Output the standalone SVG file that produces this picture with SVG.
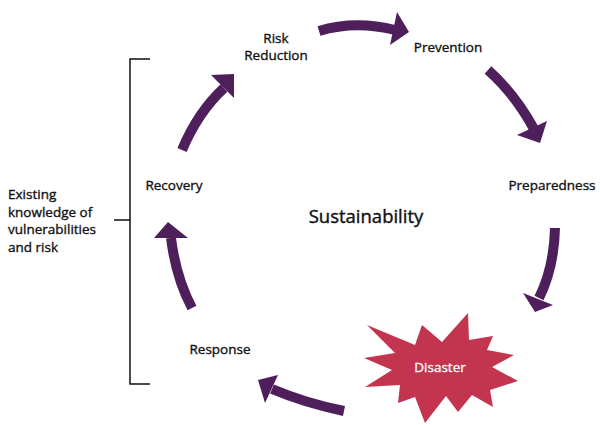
<svg xmlns="http://www.w3.org/2000/svg" width="600" height="425" viewBox="0 0 600 425">
<style>
.lbl{font-family:"Open Sans","Liberation Sans",sans-serif;font-size:13.5px;fill:#111;stroke:#111;stroke-width:0.35;}
.body{fill:none;stroke:#4f1f5c;stroke-width:10;stroke-linecap:butt;}
.head{fill:#4f1f5c;}
.br{fill:none;stroke:#111;stroke-width:1.5;}
</style>
<rect width="600" height="425" fill="#fff"/>
<g id="connectors">
<path class="body" d="M182,150 Q198,112 224,88"/>
<polygon class="head" points="211,75 234,74 234,98"/>
<path class="body" d="M319,31 Q355,20 395,30"/>
<polygon class="head" points="397,12 409,32 390,45"/>
<path class="body" d="M488,70 Q515,94 534,129"/>
<polygon class="head" points="517,135 540,143 547,121"/>
<path class="body" d="M555,228 Q554,268 539,298"/>
<polygon class="head" points="523,293 535,312 553,305"/>
<path class="body" d="M344,411 Q305,403 272,389"/>
<polygon class="head" points="278,375 258,380 265,403"/>
<path class="body" d="M192,308 Q176,278 171,238"/>
<polygon class="head" points="154,238 168,222 188,238"/>
</g>
<g id="riskreduction"><text class="lbl" x="276" y="43" text-anchor="middle">Risk</text><text class="lbl" x="276" y="60" text-anchor="middle">Reduction</text></g>
<g id="prevention"><text class="lbl" x="448" y="52" text-anchor="middle">Prevention</text></g>
<g id="preparedness"><text class="lbl" x="552" y="190" text-anchor="middle">Preparedness</text></g>
<g id="disaster">
<polygon fill="#c3344f" points="367,325 415,345 422,325 442,342 468,313 469,340 493,336 487,350 514,355 492,367 518,381 490,390 493,407 472,395 458,412 446,396 425,423 415,397 398,403 400,385 365,387 392,370 364,358 395,353"/>
<text x="440" y="372" text-anchor="middle" style="font-family:'Open Sans','Liberation Sans',sans-serif;font-size:13.5px;fill:#fff;stroke:#fff;stroke-width:0.3;">Disaster</text>
</g>
<g id="response"><text class="lbl" x="220" y="354" text-anchor="middle">Response</text></g>
<g id="recovery"><text class="lbl" x="174" y="190" text-anchor="middle">Recovery</text></g>
<g id="sustainability"><text x="366" y="223" text-anchor="middle" style="font-family:'Open Sans','Liberation Sans',sans-serif;font-size:18.5px;fill:#111;stroke:#111;stroke-width:0.4;">Sustainability</text></g>
<g id="existing">
<path class="br" d="M150,59 H130 V384 H150 M114,220 H130"/>
<text class="lbl" x="8" y="199">Existing</text>
<text class="lbl" x="8" y="217">knowledge of</text>
<text class="lbl" x="8" y="234">vulnerabilities</text>
<text class="lbl" x="8" y="252">and risk</text>
</g>
</svg>
